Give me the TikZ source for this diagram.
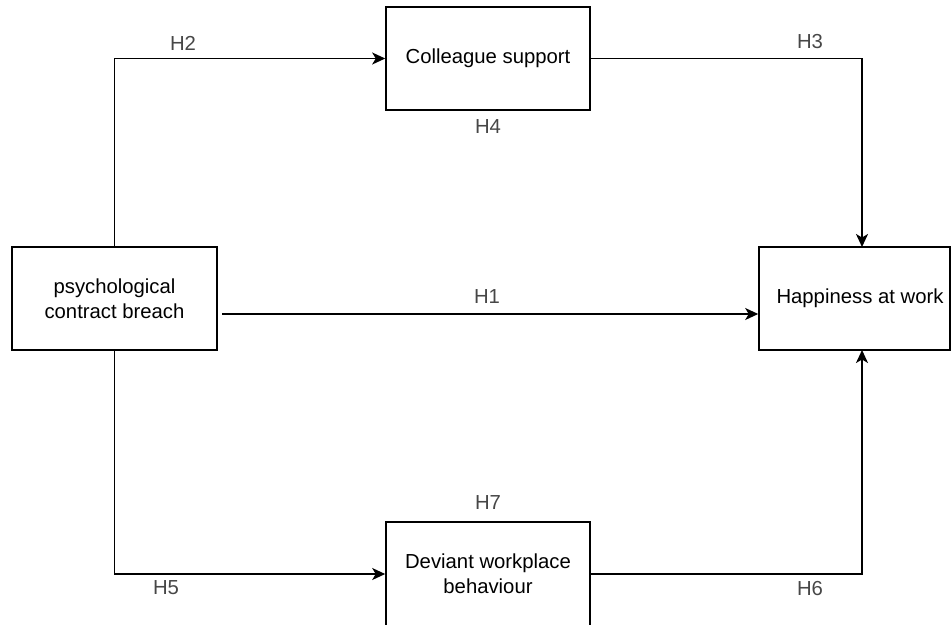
\documentclass[tikz,border=0pt]{standalone}
\usepackage{fontspec}
\setmainfont{Liberation Sans}
\usetikzlibrary{arrows.meta}
\begin{document}
\begin{tikzpicture}[x=1pt,y=-1pt,
  box/.style={draw, line width=1.6pt, inner sep=0pt, align=center, font=\fontsize{20.3}{25}\selectfont},
  conn/.style={line width=1.6pt},
  arr/.style={conn,-{Stealth[length=13pt,width=12pt,inset=3.5pt]}},
  hlab/.style={font=\fontsize{20.3}{24}\selectfont, text=black!72}]
\useasboundingbox (0,0) rectangle (952,624);
\node[box, minimum width=205pt, minimum height=103pt] (pcb) at (114.5,298.5) {psychological\\contract breach};
\node[box, minimum width=204pt, minimum height=103pt] (cs) at (488,58.5) {Colleague support};
\node[box, minimum width=204pt, minimum height=104pt] (dwb) at (488,574) {Deviant workplace\\behaviour};
\node[box, minimum width=191pt, minimum height=103pt] (haw) at (854.5,298.5) {};
\node[font=\fontsize{20.3}{25}\selectfont, inner sep=0pt] (hawt) at (860,298.5) {Happiness at work};
\coordinate (h1s) at (222,314);
\coordinate (hn) at (862,247);
\coordinate (hs) at (862,350);
\draw[arr] (pcb.north) |- (cs.west);
\draw[arr] (pcb.south) |- (dwb.west);
\draw[arr] (h1s) -- (h1s -| haw.west);
\draw[arr] (cs.east) -| (hn);
\draw[arr] (dwb.east) -| (hs);
\node[hlab] (l1) at (487,297) {H1};
\node[hlab] (l2) at (183,43) {H2};
\node[hlab] (l3) at (810,42) {H3};
\node[hlab] (l4) at (488,127) {H4};
\node[hlab] (l5) at (166,588) {H5};
\node[hlab] (l6) at (810,589) {H6};
\node[hlab] (l7) at (488,503) {H7};
\end{tikzpicture}
\end{document}
